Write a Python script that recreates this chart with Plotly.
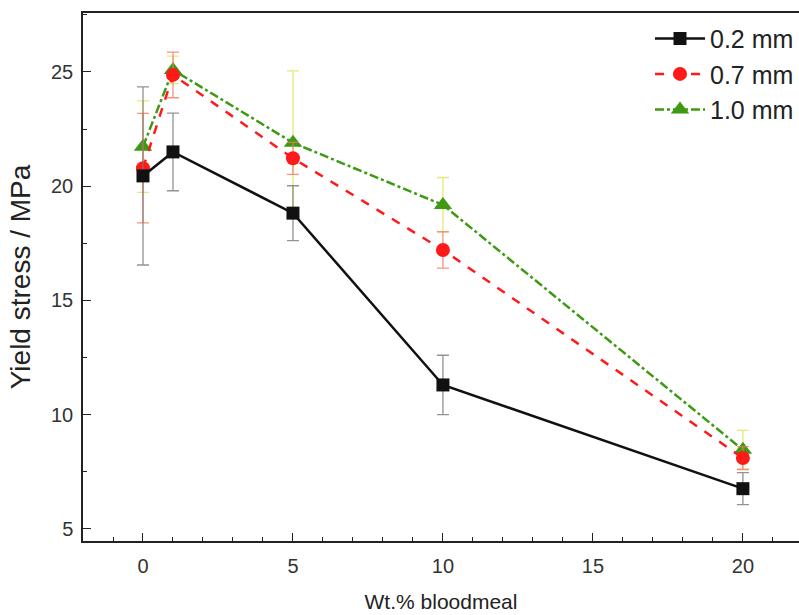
import plotly.graph_objects as go

x_vals = [0, 1, 5, 10, 20]

y_02 = [20.45, 21.5, 18.82, 11.3, 6.76]
e_02 = [3.9, 1.7, 1.2, 1.3, 0.7]

y_07 = [20.79, 24.87, 21.22, 17.21, 8.1]
e_07 = [2.4, 1.0, 0.7, 0.8, 0.5]

y_10 = [21.73, 25.09, 21.9, 19.18, 8.46]
e_10 = [2.0, 0.6, 3.15, 1.2, 0.85]

names = ["0.2 mm", "0.7 mm", "1.0 mm"]

fig = go.Figure()

series = [
    (y_10, e_10, names[2], "#3d9a12", "dashdot", "triangle-up", 16, "rgba(225,225,90,0.8)"),
    (y_07, e_07, names[1], "#ff1a1a", "dash", "circle", 14, "rgba(245,120,100,0.8)"),
    (y_02, e_02, names[0], "#111111", "solid", "square", 13, "rgba(120,120,120,0.8)"),
]

for y, e, name, col, dash, sym, size, ecol in series:
    fig.add_trace(go.Scatter(
        x=x_vals, y=y, name=name, mode="lines+markers",
        line=dict(color=col, width=2.5, dash=dash),
        marker=dict(symbol=sym, size=size, color=col),
        error_y=dict(type="data", array=e, visible=True, color=ecol, thickness=1.3, width=6),
    ))

fig.update_layout(
    width=799, height=615,
    margin=dict(l=83, r=0, t=13, b=74),
    plot_bgcolor="white", paper_bgcolor="white",
    font=dict(family="Liberation Sans, Arial", color="#333333"),
    showlegend=True,
    legend=dict(
        x=1.0, y=0.995, xanchor="right", yanchor="top",
        traceorder="reversed",
        font=dict(size=25, color="#222222"),
        bgcolor="rgba(255,255,255,0)",
        itemwidth=50, tracegroupgap=0,
    ),
    xaxis=dict(
        range=[-2, 21.87], showgrid=False, zeroline=False,
        showline=True, linecolor="#222222", linewidth=1.5, mirror=True,
        tickmode="array", tickvals=[0, 5, 10, 15, 20],
        ticks="inside", ticklen=8, tickwidth=1.2, tickcolor="#222222",
        tickfont=dict(size=20, color="#333333"),
        ticklabelstandoff=6,
        minor=dict(dtick=1, tick0=0, ticks="inside", ticklen=4, tickwidth=1, tickcolor="#222222"),
        title=dict(text="Wt.% bloodmeal", font=dict(size=21, color="#222222"), standoff=19),
    ),
    yaxis=dict(
        range=[4.47, 27.58], showgrid=False, zeroline=False,
        showline=True, linecolor="#222222", linewidth=1.5,
        tickmode="array", tickvals=[5, 10, 15, 20, 25],
        ticks="inside", ticklen=8, tickwidth=1.2, tickcolor="#222222",
        tickfont=dict(size=20, color="#333333"),
        ticklabelstandoff=4,
        minor=dict(dtick=2.5, tick0=0, ticks="inside", ticklen=4, tickwidth=1, tickcolor="#222222"),
        title=dict(text="Yield stress / MPa", font=dict(size=28, color="#222222"), standoff=12),
    ),
)

fig.write_html("out.html")
